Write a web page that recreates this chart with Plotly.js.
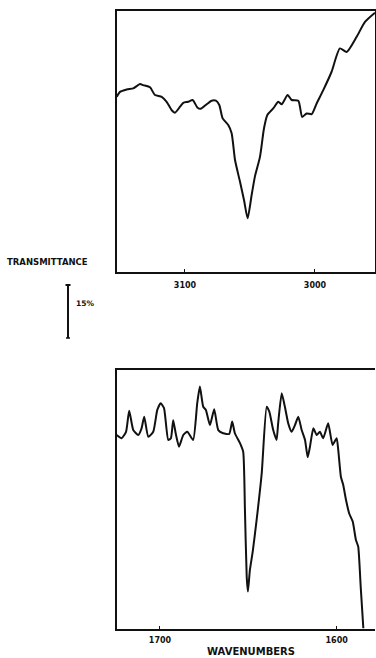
<!DOCTYPE html>
<html>
<head>
<meta charset="utf-8">
<script src="https://cdn.plot.ly/plotly-3.0.1.min.js"></script>
<style>
html,body{margin:0;padding:0;background:#fff;}
#chart{width:376px;height:658px;}
</style>
</head>
<body>
<div id="chart"></div>
<script>
// Top panel: C-H stretching region (wavenumber, % transmittance on arbitrary offset)
var topWavenumber = [3152.5,3150.0,3144.8,3139.8,3134.6,3132.1,3126.9,3123.1,3117.9,3114.1,3110.2,3107.7,3103.8,3101.3,3097.5,3094.1,3090.5,3087.9,3083.3,3079.5,3076.2,3073.6,3071.0,3066.7,3064.1,3061.5,3057.7,3054.6,3051.8,3048.7,3046.2,3042.3,3039.2,3036.7,3032.1,3028.2,3025.6,3021.0,3017.9,3012.8,3009.8,3006.4,3002.5,2998.7,2993.6,2987.2,2980.8,2975.6,2967.9,2961.5,2953.8];
var topTransmittance = [49.6,51.0,51.7,52.0,53.2,52.9,52.3,50.1,49.6,48.2,45.8,45.1,46.8,47.9,48.2,48.7,46.6,46.2,47.5,48.5,48.5,47.3,43.5,41.6,39.3,31.7,25.6,20.4,15.2,21.8,27.0,32.6,40.7,44.4,46.3,48.2,47.5,50.1,48.7,48.5,43.9,44.9,44.7,47.7,51.5,56.7,63.3,62.3,66.6,70.8,73.4];

// Bottom panel: double-bond region
var bottomWavenumber = [1724.5,1721.7,1719.2,1717.4,1715.1,1712.3,1710.4,1708.9,1706.6,1703.8,1701.5,1699.6,1697.7,1695.3,1693.8,1692.5,1691.1,1689.2,1686.8,1684.5,1681.2,1678.9,1677.4,1675.5,1674.0,1671.7,1669.3,1667.0,1664.2,1660.8,1659.1,1657.6,1654.7,1652.9,1651.9,1650.9,1650.2,1649.1,1647.5,1645.3,1642.4,1639.6,1638.1,1635.9,1634.0,1633.1,1631.1,1629.3,1627.4,1625.5,1623.6,1621.7,1619.8,1617.9,1616.4,1615.1,1613.2,1611.3,1609.5,1607.6,1604.8,1602.3,1600.0,1599.1,1597.6,1596.3,1594.7,1592.9,1590.9,1589.1,1587.8,1586.4,1584.9];
var bottomTransmittance = [54.9,54.0,55.8,61.8,56.3,54.9,56.8,60.1,54.4,55.8,62.0,63.9,62.5,53.5,54.0,59.1,55.4,51.6,54.9,55.8,53.5,63.9,68.6,62.9,62.0,57.7,62.2,56.3,55.4,55.2,58.7,55.4,52.6,50.2,33.7,14.8,10.6,16.7,21.9,30.8,44.1,62.9,61.5,56.3,53.5,58.2,66.7,62.9,58.2,55.8,57.7,60.1,56.3,53.5,48.6,51.6,56.8,54.9,55.8,54.0,58.2,52.1,54.0,50.7,43.1,40.8,36.5,32.7,30.4,25.2,23.3,12.0,0.2];

var topTicks = [3100, 3000];
var topTickLabels = ["3100", "3000"];
var bottomTicks = [1700, 1600];
var bottomTickLabels = ["1700", "1600"];

var W = 376, H = 658;
function fx(px){ return px / W; }
function fy(py){ return (H - py) / H; }

var tickFont = {family: "DejaVu Sans", size: 8, color: "#111", weight: "bold"};

var traces = [
  {x: topWavenumber, y: topTransmittance, type: "scatter", mode: "lines",
   line: {color: "#111", width: 2, shape: "spline", smoothing: 0.6}, xaxis: "x", yaxis: "y", hoverinfo: "skip"},
  {x: bottomWavenumber, y: bottomTransmittance, type: "scatter", mode: "lines",
   line: {color: "#111", width: 2, shape: "spline", smoothing: 0.5}, xaxis: "x2", yaxis: "y2", hoverinfo: "skip"}
];

var layout = {
  width: W, height: H,
  margin: {l: 0, r: 0, t: 0, b: 0},
  paper_bgcolor: "#fff", plot_bgcolor: "#fff",
  showlegend: false,
  xaxis: {domain: [fx(117), fx(375)], range: [3152.3, 2953.8], anchor: "y",
    tickvals: topTicks, ticktext: topTickLabels, ticks: "inside", ticklen: 3, tickcolor: "#111",
    showgrid: false, zeroline: false, showline: true, linecolor: "#111", linewidth: 2, mirror: true,
    tickfont: tickFont, ticklabelstandoff: 4},
  yaxis: {domain: [fy(272), fy(11)], range: [0, 73.9], anchor: "x",
    showticklabels: false, ticks: "", showgrid: false, zeroline: false,
    showline: true, linecolor: "#111", linewidth: 2, mirror: true},
  xaxis2: {domain: [fx(117), fx(375)], range: [1724.3, 1578.3], anchor: "y2",
    tickvals: bottomTicks, ticktext: bottomTickLabels, ticks: "inside", ticklen: 3, tickcolor: "#111",
    showgrid: false, zeroline: false, showline: true, linecolor: "#111", linewidth: 2, mirror: true,
    tickfont: tickFont, ticklabelstandoff: 2},
  yaxis2: {domain: [fy(629), fy(370)], range: [0, 73.3], anchor: "x2",
    showticklabels: false, ticks: "", showgrid: false, zeroline: false,
    showline: true, linecolor: "#111", linewidth: 2, mirror: false},
  annotations: [
    {text: "TRANSMITTANCE", xref: "paper", yref: "paper", x: fx(48), y: fy(262),
     xanchor: "center", yanchor: "middle", showarrow: false,
     font: {family: "DejaVu Sans", size: 8.5, color: "#111", weight: "bold"}},
    {text: "15%", xref: "paper", yref: "paper", x: fx(74), y: fy(303),
     xanchor: "left", yanchor: "middle", showarrow: false,
     font: {family: "DejaVu Sans", size: 7.5, color: "#111", weight: "bold"}},
    {text: "WAVENUMBERS", xref: "paper", yref: "paper", x: fx(251), y: fy(651),
     xanchor: "center", yanchor: "middle", showarrow: false,
     font: {family: "DejaVu Sans", size: 10, color: "#111", weight: "bold"}}
  ],
  shapes: [
    {type: "line", xref: "paper", yref: "paper", x0: fx(68), x1: fx(68), y0: fy(285), y1: fy(338),
     line: {color: "#111", width: 2}},
    {type: "line", xref: "paper", yref: "paper", x0: fx(65.5), x1: fx(70.5), y0: fy(285), y1: fy(285),
     line: {color: "#111", width: 2}},
    {type: "line", xref: "paper", yref: "paper", x0: fx(66), x1: fx(70), y0: fy(338), y1: fy(338),
     line: {color: "#111", width: 1.5}}
  ]
};

Plotly.newPlot("chart", traces, layout, {staticPlot: true, displayModeBar: false});
</script>
</body>
</html>
